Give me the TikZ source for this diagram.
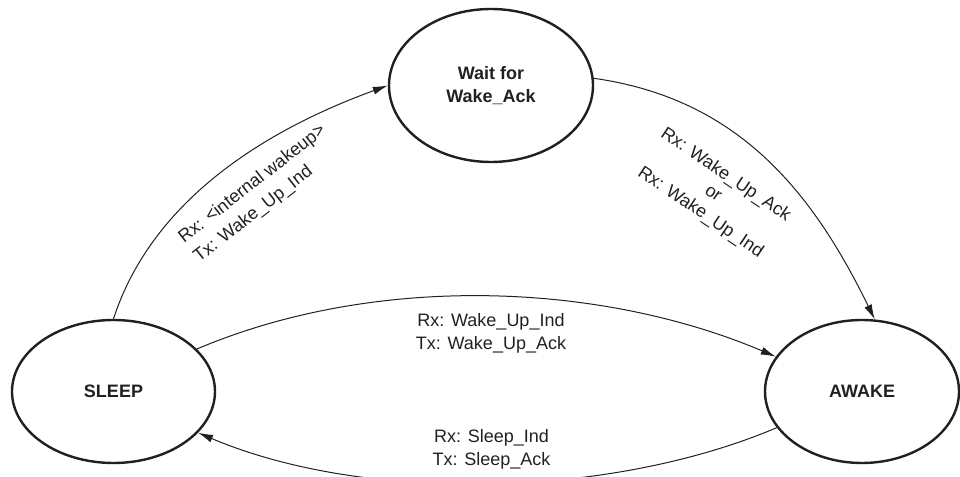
\documentclass[tikz,border=0pt]{standalone}
\usepackage{fontspec}
\setmainfont{Liberation Sans}
\usepackage{xcolor}
\usepackage{tikz}
\usetikzlibrary{arrows.meta}
\usetikzlibrary{shapes.geometric}

\definecolor{ink}{RGB}{35,31,32}
\tikzset{
  stateell/.style={draw=ink, ellipse, line width=2.4pt, inner sep=0pt, text=ink,
    font=\fontsize{18}{22.5}\selectfont\bfseries, align=center},
  trans/.style={draw=ink, line width=1pt, -{Latex[length=15pt,width=8pt]}},
  lbl/.style={text=ink, inner sep=0pt, font=\fontsize{18}{22.5}\selectfont}
}

\begin{document}
\begin{tikzpicture}[x=1pt, y=1pt]
      \clip (0,0) rectangle (960,476);

      \node[stateell, minimum width=203pt, minimum height=143pt] (sleep) at (113.5,84.5) {SLEEP};
      \node[stateell, minimum width=194pt, minimum height=143pt] (awake) at (862,84.5) {AWAKE};
      \node[stateell, minimum width=204pt, minimum height=153pt] (wait) at (491,390.5) {Wait for\\Wake\_Ack};

      \draw[trans] (sleep.north) to[out=72, in=200, looseness=0.9] (wait.west);
      \draw[trans] (wait.4) to[out=-8, in=116] (awake.80);

      \draw[trans] (sleep.27) to[out=23, in=157, looseness=0.85] (awake.158);
      \draw[trans] (awake.203) to[out=-157, in=-23, looseness=0.8] (sleep.-26);

      \node[lbl, rotate=38, align=left, font=\fontsize{18}{24.5}\selectfont] (wakeint) at (260,282) {Rx: <internal wakeup>\\Tx: Wake\_Up\_Ind};
      \node[lbl, rotate=-34, align=center] (wakeack) at (713,282) {Rx: Wake\_Up\_Ack\\or\\Rx: Wake\_Up\_Ind};
      \node[lbl, align=center] (wakeind) at (491,142.5) {Rx: Wake\_Up\_Ind\\Tx: Wake\_Up\_Ack};
      \node[lbl, align=center] (sleepind) at (491.5,26.5) {Rx: Sleep\_Ind\\Tx: Sleep\_Ack};

    \end{tikzpicture}
\end{document}
